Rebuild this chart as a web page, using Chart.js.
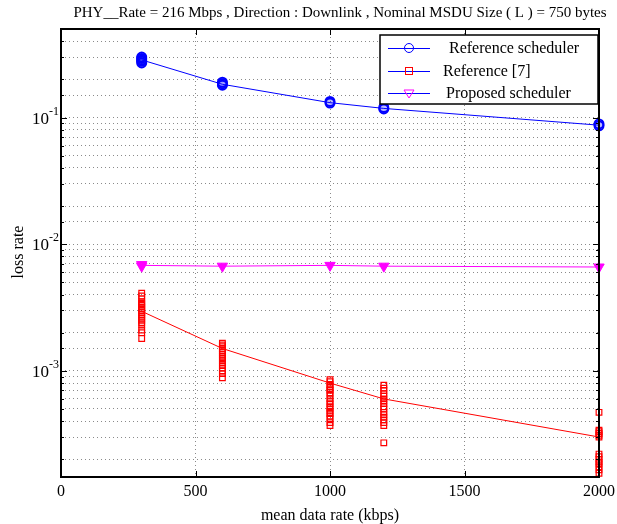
<!DOCTYPE html>
<html lang="en">
<head>
  <meta charset="UTF-8">
  <title>Loss rate vs mean data rate</title>
  <style>
    body { margin: 0; background: #fff; }
    #wrap { width: 617px; height: 524px; }
  </style>
  <script src="https://cdn.jsdelivr.net/npm/chart.js"></script>
</head>
<body>
  <div id="wrap"><canvas id="lossChart" width="617" height="524"></canvas></div>

  <script>
    // mean data rate (kbps) of each run group
    const rates = [300, 600, 1000, 1200, 2000];

    // Reference scheduler (blue): mean curve and individual runs
    const refSchedMean = [0.285, 0.183, 0.131, 0.118, 0.087];
    const refSchedRuns = [
      [0.30, 0.293, 0.285, 0.278, 0.27],
      [0.19, 0.185, 0.18],
      [0.134, 0.13],
      [0.12, 0.117],
      [0.089, 0.086]
    ];

    // Reference [7] (red)
    const ref7Mean = [0.00295, 0.0015, 0.0008, 0.0006, 0.0003];
    const ref7Runs = [
      [0.0041, 0.0039, 0.0037, 0.0035, 0.0034, 0.0033, 0.0032, 0.0031, 0.0030, 0.0029, 0.0028, 0.0027, 0.0026, 0.0025, 0.0024, 0.0023, 0.0021, 0.0020, 0.0018],
      [0.00165, 0.0016, 0.00155, 0.0015, 0.00145, 0.0014, 0.00135, 0.0013, 0.00125, 0.0012, 0.00115, 0.0011, 0.00105, 0.001, 0.00095, 0.00088],
      [0.00085, 0.00082, 0.00078, 0.00075, 0.00072, 0.0007, 0.00067, 0.00064, 0.0006, 0.00057, 0.00055, 0.00052, 0.0005, 0.00048, 0.00046, 0.00044, 0.00042, 0.00039, 0.00037],
      [0.00077, 0.00073, 0.0007, 0.00066, 0.00063, 0.0006, 0.00058, 0.00055, 0.00052, 0.0005, 0.00047, 0.00045, 0.00043, 0.00041, 0.00039, 0.00037, 0.00027],
      [0.00047, 0.00034, 0.00033, 0.00032, 0.00031, 0.0003, 0.00022, 0.00021, 0.0002, 0.00019, 0.000185, 0.000175, 0.000165, 0.000155]
    ];

    // Proposed scheduler (magenta)
    const propMean = [0.0068, 0.0067, 0.0068, 0.0067, 0.0066];
    const propRuns = [
      [0.0069, 0.0067],
      [0.0067],
      [0.0068],
      [0.0067],
      [0.0066]
    ];

    const xTicks = [0, 500, 1000, 1500, 2000];
    const yDecades = [1e-1, 1e-2, 1e-3];
    const yDecadeLabels = ['-1', '-2', '-3'];

    const titleText = 'PHY__Rate = 216 Mbps , Direction : Downlink , Nominal MSDU Size ( L ) = 750 bytes';
    const xTitle = 'mean data rate (kbps)';
    const yTitle = 'loss rate';
    const legendLabels = ['Reference scheduler', 'Reference [7]', 'Proposed scheduler'];

    const SERIF = '"Liberation Serif", "DejaVu Serif", serif';

    function toPoints(runs) {
      const pts = [];
      runs.forEach((vals, i) => vals.forEach(v => pts.push({ x: rates[i], y: v })));
      return pts;
    }
    function toLine(means) {
      return means.map((v, i) => ({ x: rates[i], y: v }));
    }

    // draws frame, inside ticks, tick labels, titles and legend
    const decorations = {
      id: 'decorations',
      afterDatasetsDraw(chart) {
        const { ctx, chartArea: a, scales } = chart;
        const xs = scales.x, ys = scales.y;
        ctx.save();

        // inside ticks
        ctx.strokeStyle = '#000';
        ctx.lineWidth = 1;
        ys.ticks.forEach(t => {
          const y = Math.round(ys.getPixelForValue(t.value)) + 0.5;
          if (y < a.top + 1 || y > a.bottom - 1) return;
          const len = yDecades.some(d => Math.abs(d - t.value) / d < 1e-6) ? 6 : 3;
          ctx.beginPath();
          ctx.moveTo(a.left, y); ctx.lineTo(a.left + len, y);
          ctx.moveTo(a.right, y); ctx.lineTo(a.right - len, y);
          ctx.stroke();
        });
        xTicks.forEach(v => {
          const x = Math.round(xs.getPixelForValue(v)) + 0.5;
          ctx.beginPath();
          ctx.moveTo(x, a.bottom); ctx.lineTo(x, a.bottom - 6);
          ctx.moveTo(x, a.top); ctx.lineTo(x, a.top + 6);
          ctx.stroke();
        });

        // frame
        ctx.lineWidth = 2;
        ctx.strokeRect(a.left, a.top, a.right - a.left, a.bottom - a.top);

        // x tick labels
        ctx.fillStyle = '#000';
        ctx.font = '16px ' + SERIF;
        ctx.textAlign = 'center';
        ctx.textBaseline = 'middle';
        xTicks.forEach(v => ctx.fillText(String(v), xs.getPixelForValue(v), 492));

        // y tick labels 10^n
        yDecades.forEach((v, i) => {
          const y = ys.getPixelForValue(v);
          ctx.font = '17px ' + SERIF;
          ctx.textAlign = 'right';
          ctx.textBaseline = 'alphabetic';
          ctx.fillText('10', 49, y + 6);
          ctx.font = '12px ' + SERIF;
          ctx.textAlign = 'left';
          ctx.fillText(yDecadeLabels[i], 49, y - 3);
        });

        // axis titles
        ctx.font = '16px ' + SERIF;
        ctx.textAlign = 'center';
        ctx.textBaseline = 'middle';
        ctx.fillText(xTitle, (a.left + a.right) / 2, 516);
        ctx.save();
        ctx.translate(19, 252);
        ctx.rotate(-Math.PI / 2);
        ctx.fillText(yTitle, 0, 0);
        ctx.restore();

        // chart title
        ctx.font = '15px ' + SERIF;
        ctx.fillText(titleText, 340, 13);

        // legend
        const lx = 380, ly = 35, lw = 218, lh = 69;
        ctx.fillStyle = '#fff';
        ctx.fillRect(lx, ly, lw, lh);
        ctx.lineWidth = 1.5;
        ctx.strokeStyle = '#000';
        ctx.strokeRect(lx, ly, lw, lh);
        const rows = [48, 71, 93];
        const textX = [449, 443, 446];
        rows.forEach((ry, i) => {
          ctx.strokeStyle = '#0000ff';
          ctx.lineWidth = 1;
          ctx.beginPath();
          ctx.moveTo(388, ry + 0.5); ctx.lineTo(430, ry + 0.5);
          ctx.stroke();
          const mx = 409;
          if (i === 0) {
            ctx.strokeStyle = '#0000ff';
            ctx.beginPath(); ctx.arc(mx, ry, 4.5, 0, Math.PI * 2); ctx.stroke();
          } else if (i === 1) {
            ctx.strokeStyle = '#ff0000';
            ctx.strokeRect(mx - 3.5, ry - 3.5, 7, 7);
          } else {
            ctx.strokeStyle = '#ff00ff';
            ctx.beginPath();
            ctx.moveTo(mx - 5, ry - 3); ctx.lineTo(mx + 5, ry - 3); ctx.lineTo(mx, ry + 5);
            ctx.closePath(); ctx.stroke();
          }
          ctx.fillStyle = '#000';
          ctx.font = '16px ' + SERIF;
          ctx.textAlign = 'left';
          ctx.fillText(legendLabels[i], textX[i], ry + 1);
        });

        ctx.restore();
      }
    };

    const chart = new Chart(document.getElementById('lossChart'), {
      type: 'line',
      data: {
        datasets: [
          {
            label: legendLabels[0] + ' line',
            data: toLine(refSchedMean),
            borderColor: '#0000ff', borderWidth: 1, pointRadius: 0, fill: false
          },
          {
            label: legendLabels[1] + ' line',
            data: toLine(ref7Mean),
            borderColor: '#ff0000', borderWidth: 1, pointRadius: 0, fill: false
          },
          {
            label: legendLabels[2] + ' line',
            data: toLine(propMean),
            borderColor: '#ff00ff', borderWidth: 1, pointRadius: 0, fill: false
          },
          {
            label: legendLabels[0],
            data: toPoints(refSchedRuns),
            showLine: false,
            pointStyle: 'circle', pointRadius: 4.5, pointBorderWidth: 2,
            pointBorderColor: '#0000ff', pointBackgroundColor: 'rgba(0,0,255,0.15)'
          },
          {
            label: legendLabels[1],
            data: toPoints(ref7Runs),
            showLine: false,
            pointStyle: 'rect', pointRadius: 4, pointBorderWidth: 1.2,
            pointBorderColor: '#ff0000', pointBackgroundColor: 'rgba(0,0,0,0)'
          },
          {
            label: legendLabels[2],
            data: toPoints(propRuns),
            showLine: false,
            pointStyle: 'triangle', rotation: 180, pointRadius: 6, pointBorderWidth: 1,
            pointBorderColor: '#ff00ff', pointBackgroundColor: '#ff00ff'
          }
        ]
      },
      options: {
        responsive: false,
        animation: false,
        clip: false,
        layout: { padding: { top: 29, right: 18, left: 0, bottom: 0 } },
        plugins: { legend: { display: false }, title: { display: false }, tooltip: { enabled: false } },
        scales: {
          x: {
            type: 'linear', min: 0, max: 2000,
            afterFit(s) { s.width; s.height = 47; },
            ticks: { display: false, stepSize: 500 },
            grid: { color: '#8a8a8a', drawTicks: false, lineWidth: 1 },
            border: { display: false, dash: [1, 3] }
          },
          y: {
            type: 'logarithmic', min: 1.45e-4, max: 0.5,
            afterFit(s) { s.width = 61; },
            ticks: { display: false, autoSkip: false },
            grid: { color: '#8a8a8a', drawTicks: false, lineWidth: 1 },
            border: { display: false, dash: [1, 3] }
          }
        }
      },
      plugins: [decorations]
    });
  </script>
</body>
</html>
